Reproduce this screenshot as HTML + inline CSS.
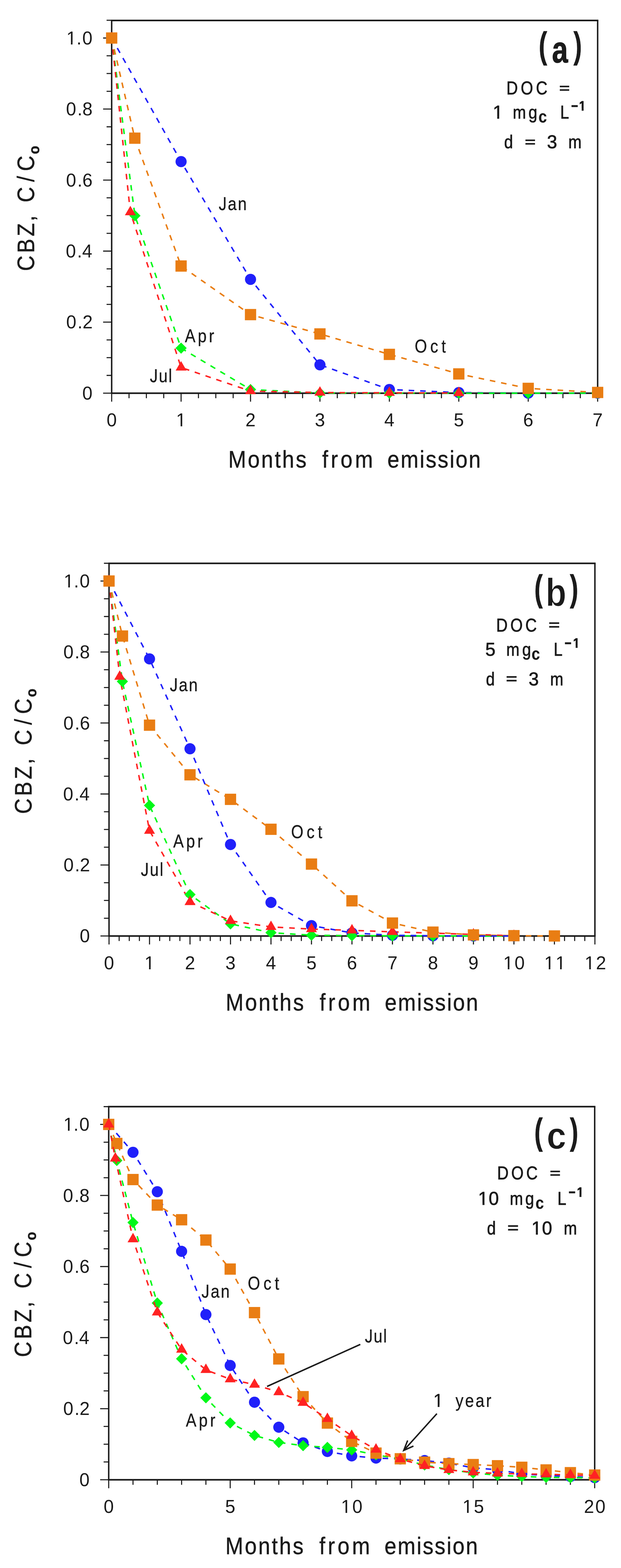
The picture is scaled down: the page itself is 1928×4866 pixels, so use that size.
<!DOCTYPE html>
<html lang="en">
<head>
<meta charset="utf-8">
<title>CBZ, C/Co vs months from emission</title>
<style>
html,body{margin:0;padding:0;background:#fff}
body{width:1928px;height:4866px;overflow:hidden}
svg{display:block}
text{font-family:"Liberation Sans",sans-serif;font-kerning:none;white-space:pre}
</style>
</head>
<body>
<svg width="1928" height="4866" viewBox="0 0 1928 4866">
<rect width="1928" height="4866" fill="#fff"/>
<g id="panel-a">
<path d="M320.1 1220.1H346.7M330.9 1164.99H346.7M330.9 1109.89H346.7M330.9 1054.78H346.7M320.1 999.68H346.7M330.9 944.57H346.7M330.9 889.47H346.7M330.9 834.36H346.7M320.1 779.26H346.7M330.9 724.15H346.7M330.9 669.05H346.7M330.9 613.94H346.7M320.1 558.84H346.7M330.9 503.73H346.7M330.9 448.63H346.7M330.9 393.52H346.7M320.1 338.42H346.7M330.9 283.31H346.7M330.9 228.21H346.7M330.9 173.11H346.7M320.1 118H346.7M330.9 62.89H346.7M346.7 1220.1V1246.4M400.59 1220.1V1235.7M454.47 1220.1V1235.7M508.36 1220.1V1235.7M562.24 1220.1V1246.4M616.13 1220.1V1235.7M670.01 1220.1V1235.7M723.9 1220.1V1235.7M777.79 1220.1V1246.4M831.67 1220.1V1235.7M885.56 1220.1V1235.7M939.44 1220.1V1235.7M993.33 1220.1V1246.4M1047.21 1220.1V1235.7M1101.1 1220.1V1235.7M1154.99 1220.1V1235.7M1208.87 1220.1V1246.4M1262.76 1220.1V1235.7M1316.64 1220.1V1235.7M1370.53 1220.1V1235.7M1424.41 1220.1V1246.4M1478.3 1220.1V1235.7M1532.19 1220.1V1235.7M1586.07 1220.1V1235.7M1639.96 1220.1V1246.4M1693.84 1220.1V1235.7M1747.73 1220.1V1235.7M1801.61 1220.1V1235.7M1855.5 1220.1V1246.4" stroke="#1b1b1b" stroke-width="3.3" fill="none"/>
<path d="M344.45 63.4H1857.75M344.45 1220.3H1857.75" stroke="#1b1b1b" stroke-width="5" fill="none"/>
<path d="M346.7 63.4V1220.1M1855.5 63.4V1220.1" stroke="#1b1b1b" stroke-width="4.5" fill="none"/>
<text transform="translate(205.89 137.8)" dx="0 0 2.4" font-size="56.7" font-weight="normal" letter-spacing="0" fill="#1b1b1b">1.0</text>
<path transform="translate(205.89 137.8)" d="M2.32 -5.44H14.26V2.5H2.32ZM19.27 -5.44H30.77V2.5H19.27Z" fill="#fff"/>
<text transform="translate(205.04 358.22)" dx="0 3.5 0" font-size="56.7" font-weight="normal" letter-spacing="0" fill="#1b1b1b">0.8</text>
<text transform="translate(205.07 578.64)" dx="0 3.5 0" font-size="56.7" font-weight="normal" letter-spacing="0" fill="#1b1b1b">0.6</text>
<text transform="translate(204.24 799.06)" dx="0 3.5 0" font-size="56.7" font-weight="normal" letter-spacing="0" fill="#1b1b1b">0.4</text>
<text transform="translate(205.43 1019.48)" dx="0 3.5 0" font-size="56.7" font-weight="normal" letter-spacing="0" fill="#1b1b1b">0.2</text>
<text transform="translate(255.58 1239.9)" font-size="56.7" font-weight="normal" letter-spacing="0" fill="#1b1b1b">0</text>
<text transform="translate(330.93 1323.1)" font-size="56.7" font-weight="normal" letter-spacing="3.7" fill="#1b1b1b">0</text>
<text transform="translate(546.48 1323.1)" font-size="56.7" font-weight="normal" letter-spacing="3.7" fill="#1b1b1b">1</text>
<path transform="translate(546.48 1323.1)" d="M2.32 -5.44H14.26V2.5H2.32ZM19.27 -5.44H30.77V2.5H19.27Z" fill="#fff"/>
<text transform="translate(762.02 1323.1)" font-size="56.7" font-weight="normal" letter-spacing="3.7" fill="#1b1b1b">2</text>
<text transform="translate(977.56 1323.1)" font-size="56.7" font-weight="normal" letter-spacing="3.7" fill="#1b1b1b">3</text>
<text transform="translate(1193.1 1323.1)" font-size="56.7" font-weight="normal" letter-spacing="3.7" fill="#1b1b1b">4</text>
<text transform="translate(1408.65 1323.1)" font-size="56.7" font-weight="normal" letter-spacing="3.7" fill="#1b1b1b">5</text>
<text transform="translate(1624.19 1323.1)" font-size="56.7" font-weight="normal" letter-spacing="3.7" fill="#1b1b1b">6</text>
<text transform="translate(1839.73 1323.1)" font-size="56.7" font-weight="normal" letter-spacing="3.7" fill="#1b1b1b">7</text>
<g>
<text transform="translate(0 1451.4) scale(0.9 1)" font-size="74" font-weight="normal" fill="#1b1b1b" stroke="#1b1b1b" stroke-width="0.8" stroke-linejoin="round"><tspan x="787.6" letter-spacing="5.39">Months</tspan> <tspan x="1111.51" letter-spacing="8.98">from</tspan> <tspan x="1336.52" letter-spacing="4.26">emission</tspan></text>
</g>
<text transform="translate(106.3 837.6) rotate(-90) scale(0.9 1)" font-size="74" fill="#1b1b1b" stroke="#1b1b1b" stroke-width="0.8" stroke-linejoin="round"><tspan x="-3.76" letter-spacing="8.42">CBZ</tspan><tspan x="167.39">,</tspan> <tspan x="233.02" letter-spacing="16.9">C/C</tspan><tspan x="399.42" y="15.2" font-size="47" font-weight="bold">o</tspan></text>
<polyline points="346.7,118 418.48,428.79 562.24,825.55 777.79,976.32 993.33,1036.27 1208.87,1099.75 1424.41,1160.37 1639.96,1205.22 1855.5,1217.9" fill="none" stroke="#e97d13" stroke-width="4.6" stroke-dasharray="17.3 18.196"/>
<polyline points="346.7,118 562.24,501.53 777.79,866.99 993.33,1132.15 1208.87,1208.75 1424.41,1218.34 1639.96,1220.1 1855.5,1220.1" fill="none" stroke="#2020fa" stroke-width="4.6" stroke-dasharray="17.3 18.289"/>
<polyline points="346.7,118 418.91,669.6 562.24,1080.35 777.79,1208.86 993.33,1219.55 1208.87,1220.1 1424.41,1220.1 1639.96,1220.1 1855.5,1220.1" fill="none" stroke="#00f818" stroke-width="4.6" stroke-dasharray="17.3 18.107"/>
<polyline points="346.7,118 404.68,658.47 562.24,1140.42 777.79,1213.71 993.33,1218.23 1208.87,1219 1424.41,1219.55" fill="none" stroke="#ff2222" stroke-width="4.6" stroke-dasharray="17.3 18.031"/>
<g><circle cx="346.7" cy="118" r="17.3" fill="#2020fa"/><circle cx="562.24" cy="501.53" r="17.3" fill="#2020fa"/><circle cx="777.79" cy="866.99" r="17.3" fill="#2020fa"/><circle cx="993.33" cy="1132.15" r="17.3" fill="#2020fa"/><circle cx="1208.87" cy="1208.75" r="17.3" fill="#2020fa"/><circle cx="1424.41" cy="1218.34" r="17.3" fill="#2020fa"/><circle cx="1639.96" cy="1220.1" r="17.3" fill="#2020fa"/><circle cx="1855.5" cy="1220.1" r="17.3" fill="#2020fa"/></g>
<g><path d="M346.7 100.6L364.1 118L346.7 135.4L329.3 118Z" fill="#00f818"/><path d="M418.91 652.2L436.31 669.6L418.91 687L401.51 669.6Z" fill="#00f818"/><path d="M562.24 1062.95L579.64 1080.35L562.24 1097.75L544.84 1080.35Z" fill="#00f818"/><path d="M777.79 1191.46L795.19 1208.86L777.79 1226.26L760.39 1208.86Z" fill="#00f818"/><path d="M993.33 1202.15L1010.73 1219.55L993.33 1236.95L975.93 1219.55Z" fill="#00f818"/><path d="M1208.87 1202.7L1226.27 1220.1L1208.87 1237.5L1191.47 1220.1Z" fill="#00f818"/><path d="M1424.41 1202.7L1441.81 1220.1L1424.41 1237.5L1407.01 1220.1Z" fill="#00f818"/><path d="M1639.96 1202.7L1657.36 1220.1L1639.96 1237.5L1622.56 1220.1Z" fill="#00f818"/><path d="M1855.5 1202.7L1872.9 1220.1L1855.5 1237.5L1838.1 1220.1Z" fill="#00f818"/></g>
<g><path d="M346.7 98.2L363.7 127.6L329.7 127.6Z" fill="#ff2222"/><path d="M404.68 638.67L421.68 668.07L387.68 668.07Z" fill="#ff2222"/><path d="M562.24 1120.62L579.24 1150.02L545.24 1150.02Z" fill="#ff2222"/><path d="M777.79 1193.91L794.79 1223.31L760.79 1223.31Z" fill="#ff2222"/><path d="M993.33 1198.43L1010.33 1227.83L976.33 1227.83Z" fill="#ff2222"/><path d="M1208.87 1199.2L1225.87 1228.6L1191.87 1228.6Z" fill="#ff2222"/><path d="M1424.41 1199.75L1441.41 1229.15L1407.41 1229.15Z" fill="#ff2222"/></g>
<g><rect x="329.2" y="100.5" width="35" height="35" fill="#e97d13"/><rect x="400.98" y="411.29" width="35" height="35" fill="#e97d13"/><rect x="544.74" y="808.05" width="35" height="35" fill="#e97d13"/><rect x="760.29" y="958.82" width="35" height="35" fill="#e97d13"/><rect x="975.83" y="1018.77" width="35" height="35" fill="#e97d13"/><rect x="1191.37" y="1082.25" width="35" height="35" fill="#e97d13"/><rect x="1406.91" y="1142.87" width="35" height="35" fill="#e97d13"/><rect x="1622.46" y="1187.72" width="35" height="35" fill="#e97d13"/><rect x="1838" y="1200.4" width="35" height="35" fill="#e97d13"/></g>
<text transform="translate(679.8 652.4) scale(0.87 1)" x="-0.88" y="0" font-size="56.5" font-weight="normal" letter-spacing="4.31" fill="#1b1b1b" stroke="#1b1b1b" stroke-width="0.6" stroke-linejoin="round">Jan</text>
<path transform="translate(679.8 652.4) scale(0.87 1)" d="M8.16 -41.17H17.63V-33.07H8.16Z" fill="#fff"/>
<text transform="translate(574 1062.4) scale(0.87 1)" x="-0.11" y="0" font-size="56.5" font-weight="normal" letter-spacing="8.29" fill="#1b1b1b" stroke="#1b1b1b" stroke-width="0.6" stroke-linejoin="round">Apr</text>
<text transform="translate(466 1186.2) scale(0.87 1)" x="-0.88" y="0" font-size="56.5" font-weight="normal" letter-spacing="3.57" fill="#1b1b1b" stroke="#1b1b1b" stroke-width="0.6" stroke-linejoin="round">Jul</text>
<path transform="translate(466 1186.2) scale(0.87 1)" d="M8.16 -41.17H17.63V-33.07H8.16Z" fill="#fff"/>
<text transform="translate(1289.8 1094) scale(0.87 1)" x="-2.68" y="0" font-size="56.5" font-weight="normal" letter-spacing="11.68" fill="#1b1b1b" stroke="#1b1b1b" stroke-width="0.6" stroke-linejoin="round">Oct</text>
</g>
<g id="panel-b">
<path d="M311.9 2904.6H338.5M322.7 2849.53H338.5M322.7 2794.45H338.5M322.7 2739.38H338.5M311.9 2684.3H338.5M322.7 2629.22H338.5M322.7 2574.15H338.5M322.7 2519.07H338.5M311.9 2464H338.5M322.7 2408.92H338.5M322.7 2353.85H338.5M322.7 2298.77H338.5M311.9 2243.7H338.5M322.7 2188.62H338.5M322.7 2133.55H338.5M322.7 2078.47H338.5M311.9 2023.4H338.5M322.7 1968.32H338.5M322.7 1913.25H338.5M322.7 1858.17H338.5M311.9 1803.1H338.5M322.7 1748.02H338.5M338.5 2904.6V2930.9M369.93 2904.6V2920.2M401.35 2904.6V2920.2M432.78 2904.6V2920.2M464.21 2904.6V2930.9M495.64 2904.6V2920.2M527.06 2904.6V2920.2M558.49 2904.6V2920.2M589.92 2904.6V2930.9M621.34 2904.6V2920.2M652.77 2904.6V2920.2M684.2 2904.6V2920.2M715.62 2904.6V2930.9M747.05 2904.6V2920.2M778.48 2904.6V2920.2M809.91 2904.6V2920.2M841.33 2904.6V2930.9M872.76 2904.6V2920.2M904.19 2904.6V2920.2M935.61 2904.6V2920.2M967.04 2904.6V2930.9M998.47 2904.6V2920.2M1029.9 2904.6V2920.2M1061.32 2904.6V2920.2M1092.75 2904.6V2930.9M1124.18 2904.6V2920.2M1155.6 2904.6V2920.2M1187.03 2904.6V2920.2M1218.46 2904.6V2930.9M1249.89 2904.6V2920.2M1281.31 2904.6V2920.2M1312.74 2904.6V2920.2M1344.17 2904.6V2930.9M1375.59 2904.6V2920.2M1407.02 2904.6V2920.2M1438.45 2904.6V2920.2M1469.88 2904.6V2930.9M1501.3 2904.6V2920.2M1532.73 2904.6V2920.2M1564.16 2904.6V2920.2M1595.58 2904.6V2930.9M1627.01 2904.6V2920.2M1658.44 2904.6V2920.2M1689.86 2904.6V2920.2M1721.29 2904.6V2930.9M1752.72 2904.6V2920.2M1784.15 2904.6V2920.2M1815.57 2904.6V2920.2M1847 2904.6V2930.9" stroke="#1b1b1b" stroke-width="3.3" fill="none"/>
<path d="M336.25 1748.2H1849.25M336.25 2904.8H1849.25" stroke="#1b1b1b" stroke-width="5" fill="none"/>
<path d="M338.5 1748.2V2904.6M1847 1748.2V2904.6" stroke="#1b1b1b" stroke-width="4.5" fill="none"/>
<text transform="translate(197.69 1822.9)" dx="0 0 2.4" font-size="56.7" font-weight="normal" letter-spacing="0" fill="#1b1b1b">1.0</text>
<path transform="translate(197.69 1822.9)" d="M2.32 -5.44H14.26V2.5H2.32ZM19.27 -5.44H30.77V2.5H19.27Z" fill="#fff"/>
<text transform="translate(196.84 2043.2)" dx="0 3.5 0" font-size="56.7" font-weight="normal" letter-spacing="0" fill="#1b1b1b">0.8</text>
<text transform="translate(196.87 2263.5)" dx="0 3.5 0" font-size="56.7" font-weight="normal" letter-spacing="0" fill="#1b1b1b">0.6</text>
<text transform="translate(196.04 2483.8)" dx="0 3.5 0" font-size="56.7" font-weight="normal" letter-spacing="0" fill="#1b1b1b">0.4</text>
<text transform="translate(197.23 2704.1)" dx="0 3.5 0" font-size="56.7" font-weight="normal" letter-spacing="0" fill="#1b1b1b">0.2</text>
<text transform="translate(247.38 2924.4)" font-size="56.7" font-weight="normal" letter-spacing="0" fill="#1b1b1b">0</text>
<text transform="translate(322.73 3007.6)" font-size="56.7" font-weight="normal" letter-spacing="3.7" fill="#1b1b1b">0</text>
<text transform="translate(448.44 3007.6)" font-size="56.7" font-weight="normal" letter-spacing="3.7" fill="#1b1b1b">1</text>
<path transform="translate(448.44 3007.6)" d="M2.32 -5.44H14.26V2.5H2.32ZM19.27 -5.44H30.77V2.5H19.27Z" fill="#fff"/>
<text transform="translate(574.15 3007.6)" font-size="56.7" font-weight="normal" letter-spacing="3.7" fill="#1b1b1b">2</text>
<text transform="translate(699.86 3007.6)" font-size="56.7" font-weight="normal" letter-spacing="3.7" fill="#1b1b1b">3</text>
<text transform="translate(825.57 3007.6)" font-size="56.7" font-weight="normal" letter-spacing="3.7" fill="#1b1b1b">4</text>
<text transform="translate(951.27 3007.6)" font-size="56.7" font-weight="normal" letter-spacing="3.7" fill="#1b1b1b">5</text>
<text transform="translate(1076.98 3007.6)" font-size="56.7" font-weight="normal" letter-spacing="3.7" fill="#1b1b1b">6</text>
<text transform="translate(1202.69 3007.6)" font-size="56.7" font-weight="normal" letter-spacing="3.7" fill="#1b1b1b">7</text>
<text transform="translate(1328.4 3007.6)" font-size="56.7" font-weight="normal" letter-spacing="3.7" fill="#1b1b1b">8</text>
<text transform="translate(1454.11 3007.6)" font-size="56.7" font-weight="normal" letter-spacing="3.7" fill="#1b1b1b">9</text>
<text transform="translate(1562.2 3007.6)" font-size="56.7" font-weight="normal" letter-spacing="3.7" fill="#1b1b1b">10</text>
<path transform="translate(1562.2 3007.6)" d="M2.32 -5.44H14.26V2.5H2.32ZM19.27 -5.44H30.77V2.5H19.27Z" fill="#fff"/>
<text transform="translate(1689.41 3007.6)" font-size="56.7" font-weight="normal" letter-spacing="3.7" fill="#1b1b1b">11</text>
<path transform="translate(1689.41 3007.6)" d="M2.32 -5.44H14.26V2.5H2.32ZM19.27 -5.44H30.77V2.5H19.27ZM37.55 -5.44H49.49V2.5H37.55ZM54.5 -5.44H66V2.5H54.5Z" fill="#fff"/>
<text transform="translate(1815.12 3007.6)" font-size="56.7" font-weight="normal" letter-spacing="3.7" fill="#1b1b1b">12</text>
<path transform="translate(1815.12 3007.6)" d="M2.32 -5.44H14.26V2.5H2.32ZM19.27 -5.44H30.77V2.5H19.27Z" fill="#fff"/>
<g>
<text transform="translate(0 3135.9) scale(0.9 1)" font-size="74" font-weight="normal" fill="#1b1b1b" stroke="#1b1b1b" stroke-width="0.8" stroke-linejoin="round"><tspan x="778.49" letter-spacing="5.39">Months</tspan> <tspan x="1102.4" letter-spacing="8.98">from</tspan> <tspan x="1327.41" letter-spacing="4.26">emission</tspan></text>
</g>
<text transform="translate(98.1 2522.5) rotate(-90) scale(0.9 1)" font-size="74" fill="#1b1b1b" stroke="#1b1b1b" stroke-width="0.8" stroke-linejoin="round"><tspan x="-3.76" letter-spacing="8.42">CBZ</tspan><tspan x="167.39">,</tspan> <tspan x="233.02" letter-spacing="16.9">C/C</tspan><tspan x="399.42" y="15.2" font-size="47" font-weight="bold">o</tspan></text>
<polyline points="338.5,1803.1 380.31,1973.83 464.21,2250.42 589.92,2404.41 715.62,2480.63 841.33,2573.49 967.04,2681.55 1092.75,2795.55 1218.46,2864.51 1344.17,2892.7 1469.88,2901.3 1595.58,2903.72 1721.29,2904.6" fill="none" stroke="#e97d13" stroke-width="4.6" stroke-dasharray="17.3 18.526"/>
<polyline points="338.5,1803.1 464.21,2044.77 589.92,2323.67 715.62,2620.85 841.33,2800.62 967.04,2872.44 1092.75,2895.24 1218.46,2902.4 1344.17,2904.05 1469.88,2904.6 1595.58,2904.6" fill="none" stroke="#2020fa" stroke-width="4.6" stroke-dasharray="17.3 18.511"/>
<polyline points="338.5,1803.1 379.98,2114.82 464.21,2499.47 589.92,2776.05 715.62,2867.04 841.33,2894.36 967.04,2902.29 1092.75,2903.5 1218.46,2904.05 1344.17,2904.6 1469.88,2904.6 1595.58,2904.6" fill="none" stroke="#00f818" stroke-width="4.6" stroke-dasharray="17.3 18.358"/>
<polyline points="338.5,1803.1 371.69,2099.95 464.21,2577.78 589.92,2799.19 715.62,2857.68 841.33,2876.51 967.04,2883.23 1092.75,2887.09 1218.46,2891.82 1344.17,2895.79 1469.88,2899.86 1595.58,2903.94" fill="none" stroke="#ff2222" stroke-width="4.6" stroke-dasharray="17.3 18.552"/>
<g><circle cx="338.5" cy="1803.1" r="17.3" fill="#2020fa"/><circle cx="464.21" cy="2044.77" r="17.3" fill="#2020fa"/><circle cx="589.92" cy="2323.67" r="17.3" fill="#2020fa"/><circle cx="715.62" cy="2620.85" r="17.3" fill="#2020fa"/><circle cx="841.33" cy="2800.62" r="17.3" fill="#2020fa"/><circle cx="967.04" cy="2872.44" r="17.3" fill="#2020fa"/><circle cx="1092.75" cy="2895.24" r="17.3" fill="#2020fa"/><circle cx="1218.46" cy="2902.4" r="17.3" fill="#2020fa"/><circle cx="1344.17" cy="2904.05" r="17.3" fill="#2020fa"/><circle cx="1469.88" cy="2904.6" r="17.3" fill="#2020fa"/><circle cx="1595.58" cy="2904.6" r="17.3" fill="#2020fa"/></g>
<g><path d="M338.5 1785.7L355.9 1803.1L338.5 1820.5L321.1 1803.1Z" fill="#00f818"/><path d="M379.98 2097.42L397.38 2114.82L379.98 2132.22L362.58 2114.82Z" fill="#00f818"/><path d="M464.21 2482.07L481.61 2499.47L464.21 2516.87L446.81 2499.47Z" fill="#00f818"/><path d="M589.92 2758.65L607.32 2776.05L589.92 2793.45L572.52 2776.05Z" fill="#00f818"/><path d="M715.62 2849.64L733.02 2867.04L715.62 2884.44L698.23 2867.04Z" fill="#00f818"/><path d="M841.33 2876.96L858.73 2894.36L841.33 2911.76L823.93 2894.36Z" fill="#00f818"/><path d="M967.04 2884.89L984.44 2902.29L967.04 2919.69L949.64 2902.29Z" fill="#00f818"/><path d="M1092.75 2886.1L1110.15 2903.5L1092.75 2920.9L1075.35 2903.5Z" fill="#00f818"/><path d="M1218.46 2886.65L1235.86 2904.05L1218.46 2921.45L1201.06 2904.05Z" fill="#00f818"/><path d="M1344.17 2887.2L1361.57 2904.6L1344.17 2922L1326.77 2904.6Z" fill="#00f818"/><path d="M1469.88 2887.2L1487.28 2904.6L1469.88 2922L1452.47 2904.6Z" fill="#00f818"/><path d="M1595.58 2887.2L1612.98 2904.6L1595.58 2922L1578.18 2904.6Z" fill="#00f818"/></g>
<g><path d="M338.5 1783.3L355.5 1812.7L321.5 1812.7Z" fill="#ff2222"/><path d="M371.69 2080.15L388.69 2109.55L354.69 2109.55Z" fill="#ff2222"/><path d="M464.21 2557.98L481.21 2587.38L447.21 2587.38Z" fill="#ff2222"/><path d="M589.92 2779.39L606.92 2808.79L572.92 2808.79Z" fill="#ff2222"/><path d="M715.62 2837.88L732.62 2867.28L698.62 2867.28Z" fill="#ff2222"/><path d="M841.33 2856.71L858.33 2886.11L824.33 2886.11Z" fill="#ff2222"/><path d="M967.04 2863.43L984.04 2892.83L950.04 2892.83Z" fill="#ff2222"/><path d="M1092.75 2867.29L1109.75 2896.69L1075.75 2896.69Z" fill="#ff2222"/><path d="M1218.46 2872.02L1235.46 2901.42L1201.46 2901.42Z" fill="#ff2222"/><path d="M1344.17 2875.99L1361.17 2905.39L1327.17 2905.39Z" fill="#ff2222"/><path d="M1469.88 2880.06L1486.88 2909.46L1452.88 2909.46Z" fill="#ff2222"/><path d="M1595.58 2884.14L1612.58 2913.54L1578.58 2913.54Z" fill="#ff2222"/></g>
<g><rect x="321" y="1785.6" width="35" height="35" fill="#e97d13"/><rect x="362.81" y="1956.33" width="35" height="35" fill="#e97d13"/><rect x="446.71" y="2232.92" width="35" height="35" fill="#e97d13"/><rect x="572.42" y="2386.91" width="35" height="35" fill="#e97d13"/><rect x="698.12" y="2463.13" width="35" height="35" fill="#e97d13"/><rect x="823.83" y="2555.99" width="35" height="35" fill="#e97d13"/><rect x="949.54" y="2664.05" width="35" height="35" fill="#e97d13"/><rect x="1075.25" y="2778.05" width="35" height="35" fill="#e97d13"/><rect x="1200.96" y="2847.01" width="35" height="35" fill="#e97d13"/><rect x="1326.67" y="2875.2" width="35" height="35" fill="#e97d13"/><rect x="1452.38" y="2883.8" width="35" height="35" fill="#e97d13"/><rect x="1578.08" y="2886.22" width="35" height="35" fill="#e97d13"/><rect x="1703.79" y="2887.1" width="35" height="35" fill="#e97d13"/></g>
<text transform="translate(528 2144.7) scale(0.87 1)" x="-0.88" y="0" font-size="56.5" font-weight="normal" letter-spacing="4.03" fill="#1b1b1b" stroke="#1b1b1b" stroke-width="0.6" stroke-linejoin="round">Jan</text>
<path transform="translate(528 2144.7) scale(0.87 1)" d="M8.16 -41.17H17.63V-33.07H8.16Z" fill="#fff"/>
<text transform="translate(537.8 2629.6) scale(0.87 1)" x="-0.11" y="0" font-size="56.5" font-weight="normal" letter-spacing="8.57" fill="#1b1b1b" stroke="#1b1b1b" stroke-width="0.6" stroke-linejoin="round">Apr</text>
<text transform="translate(437.9 2718.2) scale(0.87 1)" x="-0.88" y="0" font-size="56.5" font-weight="normal" letter-spacing="4.03" fill="#1b1b1b" stroke="#1b1b1b" stroke-width="0.6" stroke-linejoin="round">Jul</text>
<path transform="translate(437.9 2718.2) scale(0.87 1)" d="M8.16 -41.17H17.63V-33.07H8.16Z" fill="#fff"/>
<text transform="translate(906 2600.5) scale(0.87 1)" x="-2.68" y="0" font-size="56.5" font-weight="normal" letter-spacing="11.62" fill="#1b1b1b" stroke="#1b1b1b" stroke-width="0.6" stroke-linejoin="round">Oct</text>
</g>
<g id="panel-c">
<path d="M310.9 4592.1H337.5M321.7 4536.97H337.5M321.7 4481.83H337.5M321.7 4426.7H337.5M310.9 4371.56H337.5M321.7 4316.43H337.5M321.7 4261.29H337.5M321.7 4206.16H337.5M310.9 4151.02H337.5M321.7 4095.89H337.5M321.7 4040.75H337.5M321.7 3985.62H337.5M310.9 3930.48H337.5M321.7 3875.35H337.5M321.7 3820.21H337.5M321.7 3765.08H337.5M310.9 3709.94H337.5M321.7 3654.81H337.5M321.7 3599.67H337.5M321.7 3544.53H337.5M310.9 3489.4H337.5M321.7 3434.27H337.5M337.5 4592.1V4618.4M412.94 4592.1V4607.7M488.38 4592.1V4607.7M563.82 4592.1V4607.7M639.26 4592.1V4607.7M714.7 4592.1V4618.4M790.14 4592.1V4607.7M865.58 4592.1V4607.7M941.02 4592.1V4607.7M1016.46 4592.1V4607.7M1091.9 4592.1V4618.4M1167.34 4592.1V4607.7M1242.78 4592.1V4607.7M1318.22 4592.1V4607.7M1393.66 4592.1V4607.7M1469.1 4592.1V4618.4M1544.54 4592.1V4607.7M1619.98 4592.1V4607.7M1695.42 4592.1V4607.7M1770.86 4592.1V4607.7M1846.3 4592.1V4618.4" stroke="#1b1b1b" stroke-width="3.3" fill="none"/>
<path d="M335.25 3434.2H1848.55M335.25 4592.3H1848.55" stroke="#1b1b1b" stroke-width="5" fill="none"/>
<path d="M337.5 3434.2V4592.1M1846.3 3434.2V4592.1" stroke="#1b1b1b" stroke-width="4.5" fill="none"/>
<text transform="translate(196.69 3509.2)" dx="0 0 2.4" font-size="56.7" font-weight="normal" letter-spacing="0" fill="#1b1b1b">1.0</text>
<path transform="translate(196.69 3509.2)" d="M2.32 -5.44H14.26V2.5H2.32ZM19.27 -5.44H30.77V2.5H19.27Z" fill="#fff"/>
<text transform="translate(195.84 3729.74)" dx="0 3.5 0" font-size="56.7" font-weight="normal" letter-spacing="0" fill="#1b1b1b">0.8</text>
<text transform="translate(195.87 3950.28)" dx="0 3.5 0" font-size="56.7" font-weight="normal" letter-spacing="0" fill="#1b1b1b">0.6</text>
<text transform="translate(195.04 4170.82)" dx="0 3.5 0" font-size="56.7" font-weight="normal" letter-spacing="0" fill="#1b1b1b">0.4</text>
<text transform="translate(196.23 4391.36)" dx="0 3.5 0" font-size="56.7" font-weight="normal" letter-spacing="0" fill="#1b1b1b">0.2</text>
<text transform="translate(246.38 4611.9)" font-size="56.7" font-weight="normal" letter-spacing="0" fill="#1b1b1b">0</text>
<text transform="translate(321.73 4695.1)" font-size="56.7" font-weight="normal" letter-spacing="3.7" fill="#1b1b1b">0</text>
<text transform="translate(698.93 4695.1)" font-size="56.7" font-weight="normal" letter-spacing="3.7" fill="#1b1b1b">5</text>
<text transform="translate(1058.52 4695.1)" font-size="56.7" font-weight="normal" letter-spacing="3.7" fill="#1b1b1b">10</text>
<path transform="translate(1058.52 4695.1)" d="M2.32 -5.44H14.26V2.5H2.32ZM19.27 -5.44H30.77V2.5H19.27Z" fill="#fff"/>
<text transform="translate(1435.72 4695.1)" font-size="56.7" font-weight="normal" letter-spacing="3.7" fill="#1b1b1b">15</text>
<path transform="translate(1435.72 4695.1)" d="M2.32 -5.44H14.26V2.5H2.32ZM19.27 -5.44H30.77V2.5H19.27Z" fill="#fff"/>
<text transform="translate(1812.92 4695.1)" font-size="56.7" font-weight="normal" letter-spacing="3.7" fill="#1b1b1b">20</text>
<g>
<text transform="translate(0 4823.4) scale(0.9 1)" font-size="74" font-weight="normal" fill="#1b1b1b" stroke="#1b1b1b" stroke-width="0.8" stroke-linejoin="round"><tspan x="777.37" letter-spacing="5.39">Months</tspan> <tspan x="1101.29" letter-spacing="8.98">from</tspan> <tspan x="1326.3" letter-spacing="4.26">emission</tspan></text>
</g>
<text transform="translate(97.1 4208.1) rotate(-90) scale(0.9 1)" font-size="74" fill="#1b1b1b" stroke="#1b1b1b" stroke-width="0.8" stroke-linejoin="round"><tspan x="-3.76" letter-spacing="8.42">CBZ</tspan><tspan x="167.39">,</tspan> <tspan x="233.02" letter-spacing="16.9">C/C</tspan><tspan x="399.42" y="15.2" font-size="47" font-weight="bold">o</tspan></text>
<polyline points="337.5,3489.4 412.94,3575.96 488.38,3698.25 563.82,3883.39 639.26,4079.57 714.7,4237.58 790.14,4351.6 865.58,4429.12 941.02,4477.75 1016.46,4504.33 1091.9,4518.11 1167.34,4524.84 1242.78,4527.59 1318.22,4532.66 1393.66,4540.6 1469.1,4555.16 1544.54,4561.22 1619.98,4573.91 1695.42,4578.87 1770.86,4581.96 1846.3,4585.48" fill="none" stroke="#2020fa" stroke-width="4.6" stroke-dasharray="17.3 18.484"/>
<polyline points="337.5,3489.4 362.7,3601.43 412.94,3793.86 488.38,4043.73 563.82,4216.74 639.26,4337.82 714.7,4415.78 790.14,4454.59 865.58,4476.32 941.02,4486.35 1016.46,4491.75 1091.9,4499.58 1167.34,4514.91 1242.78,4527.59 1318.22,4546.34 1393.66,4560.67 1469.1,4571.15 1544.54,4577.99 1619.98,4581.96 1695.42,4584.49 1770.86,4585.59 1846.3,4586.48" fill="none" stroke="#00f818" stroke-width="4.6" stroke-dasharray="17.3 18.500"/>
<polyline points="337.5,3489.4 362.7,3548.5 412.94,3660.54 488.38,3739.71 563.82,3785.25 639.26,3848.22 714.7,3938.31 790.14,4073.5 865.58,4217.18 941.02,4334.29 1016.46,4416.22 1091.9,4473.01 1167.34,4509.4 1242.78,4527.04 1318.22,4537.52 1393.66,4542.15 1469.1,4545.01 1544.54,4548.65 1619.98,4553.4 1695.42,4561.67 1770.86,4570.16 1846.3,4577.54" fill="none" stroke="#e97d13" stroke-width="4.6" stroke-dasharray="17.3 17.984"/>
<g><circle cx="337.5" cy="3489.4" r="17.3" fill="#2020fa"/><circle cx="412.94" cy="3575.96" r="17.3" fill="#2020fa"/><circle cx="488.38" cy="3698.25" r="17.3" fill="#2020fa"/><circle cx="563.82" cy="3883.39" r="17.3" fill="#2020fa"/><circle cx="639.26" cy="4079.57" r="17.3" fill="#2020fa"/><circle cx="714.7" cy="4237.58" r="17.3" fill="#2020fa"/><circle cx="790.14" cy="4351.6" r="17.3" fill="#2020fa"/><circle cx="865.58" cy="4429.12" r="17.3" fill="#2020fa"/><circle cx="941.02" cy="4477.75" r="17.3" fill="#2020fa"/><circle cx="1016.46" cy="4504.33" r="17.3" fill="#2020fa"/><circle cx="1091.9" cy="4518.11" r="17.3" fill="#2020fa"/><circle cx="1167.34" cy="4524.84" r="17.3" fill="#2020fa"/><circle cx="1242.78" cy="4527.59" r="17.3" fill="#2020fa"/><circle cx="1318.22" cy="4532.66" r="17.3" fill="#2020fa"/><circle cx="1393.66" cy="4540.6" r="17.3" fill="#2020fa"/><circle cx="1469.1" cy="4555.16" r="17.3" fill="#2020fa"/><circle cx="1544.54" cy="4561.22" r="17.3" fill="#2020fa"/><circle cx="1619.98" cy="4573.91" r="17.3" fill="#2020fa"/><circle cx="1695.42" cy="4578.87" r="17.3" fill="#2020fa"/><circle cx="1770.86" cy="4581.96" r="17.3" fill="#2020fa"/><circle cx="1846.3" cy="4585.48" r="17.3" fill="#2020fa"/></g>
<g><path d="M337.5 3472L354.9 3489.4L337.5 3506.8L320.1 3489.4Z" fill="#00f818"/><path d="M362.7 3584.03L380.1 3601.43L362.7 3618.83L345.3 3601.43Z" fill="#00f818"/><path d="M412.94 3776.46L430.34 3793.86L412.94 3811.26L395.54 3793.86Z" fill="#00f818"/><path d="M488.38 4026.33L505.78 4043.73L488.38 4061.13L470.98 4043.73Z" fill="#00f818"/><path d="M563.82 4199.34L581.22 4216.74L563.82 4234.14L546.42 4216.74Z" fill="#00f818"/><path d="M639.26 4320.42L656.66 4337.82L639.26 4355.22L621.86 4337.82Z" fill="#00f818"/><path d="M714.7 4398.38L732.1 4415.78L714.7 4433.18L697.3 4415.78Z" fill="#00f818"/><path d="M790.14 4437.19L807.54 4454.59L790.14 4471.99L772.74 4454.59Z" fill="#00f818"/><path d="M865.58 4458.92L882.98 4476.32L865.58 4493.72L848.18 4476.32Z" fill="#00f818"/><path d="M941.02 4468.95L958.42 4486.35L941.02 4503.75L923.62 4486.35Z" fill="#00f818"/><path d="M1016.46 4474.35L1033.86 4491.75L1016.46 4509.15L999.06 4491.75Z" fill="#00f818"/><path d="M1091.9 4482.18L1109.3 4499.58L1091.9 4516.98L1074.5 4499.58Z" fill="#00f818"/><path d="M1167.34 4497.51L1184.74 4514.91L1167.34 4532.31L1149.94 4514.91Z" fill="#00f818"/><path d="M1242.78 4510.19L1260.18 4527.59L1242.78 4544.99L1225.38 4527.59Z" fill="#00f818"/><path d="M1318.22 4528.94L1335.62 4546.34L1318.22 4563.74L1300.82 4546.34Z" fill="#00f818"/><path d="M1393.66 4543.27L1411.06 4560.67L1393.66 4578.07L1376.26 4560.67Z" fill="#00f818"/><path d="M1469.1 4553.75L1486.5 4571.15L1469.1 4588.55L1451.7 4571.15Z" fill="#00f818"/><path d="M1544.54 4560.59L1561.94 4577.99L1544.54 4595.39L1527.14 4577.99Z" fill="#00f818"/><path d="M1619.98 4564.56L1637.38 4581.96L1619.98 4599.36L1602.58 4581.96Z" fill="#00f818"/><path d="M1695.42 4567.09L1712.82 4584.49L1695.42 4601.89L1678.02 4584.49Z" fill="#00f818"/><path d="M1770.86 4568.19L1788.26 4585.59L1770.86 4602.99L1753.46 4585.59Z" fill="#00f818"/><path d="M1846.3 4569.08L1863.7 4586.48L1846.3 4603.88L1828.9 4586.48Z" fill="#00f818"/></g>
<g><rect x="320" y="3471.9" width="35" height="35" fill="#e97d13"/><rect x="345.2" y="3531" width="35" height="35" fill="#e97d13"/><rect x="395.44" y="3643.04" width="35" height="35" fill="#e97d13"/><rect x="470.88" y="3722.21" width="35" height="35" fill="#e97d13"/><rect x="546.32" y="3767.75" width="35" height="35" fill="#e97d13"/><rect x="621.76" y="3830.72" width="35" height="35" fill="#e97d13"/><rect x="697.2" y="3920.81" width="35" height="35" fill="#e97d13"/><rect x="772.64" y="4056" width="35" height="35" fill="#e97d13"/><rect x="848.08" y="4199.68" width="35" height="35" fill="#e97d13"/><rect x="923.52" y="4316.79" width="35" height="35" fill="#e97d13"/><rect x="998.96" y="4398.72" width="35" height="35" fill="#e97d13"/><rect x="1074.4" y="4455.51" width="35" height="35" fill="#e97d13"/><rect x="1149.84" y="4491.9" width="35" height="35" fill="#e97d13"/><rect x="1225.28" y="4509.54" width="35" height="35" fill="#e97d13"/><rect x="1300.72" y="4520.02" width="35" height="35" fill="#e97d13"/><rect x="1376.16" y="4524.65" width="35" height="35" fill="#e97d13"/><rect x="1451.6" y="4527.51" width="35" height="35" fill="#e97d13"/><rect x="1527.04" y="4531.15" width="35" height="35" fill="#e97d13"/><rect x="1602.48" y="4535.9" width="35" height="35" fill="#e97d13"/><rect x="1677.92" y="4544.17" width="35" height="35" fill="#e97d13"/><rect x="1753.36" y="4552.66" width="35" height="35" fill="#e97d13"/><rect x="1828.8" y="4560.04" width="35" height="35" fill="#e97d13"/></g>
<polyline points="337.5,3489.4 358.02,3595.04 412.94,3845.57 488.38,4072.62 563.82,4188.07 639.26,4251.15 714.7,4280.15 790.14,4297.02 865.58,4320.06 941.02,4353.03 1016.46,4403.21 1091.9,4455.7 1167.34,4498.37 1242.78,4528.14 1318.22,4549.09 1393.66,4561.67 1469.1,4568.94 1544.54,4572.58 1619.98,4574.02 1695.42,4575.23 1770.86,4576.99 1846.3,4579.31" fill="none" stroke="#ff2222" stroke-width="4.6" stroke-dasharray="17.3 18.279"/>
<g><path d="M337.5 3469.6L354.5 3499L320.5 3499Z" fill="#ff2222"/><path d="M358.02 3575.24L375.02 3604.64L341.02 3604.64Z" fill="#ff2222"/><path d="M412.94 3825.77L429.94 3855.17L395.94 3855.17Z" fill="#ff2222"/><path d="M488.38 4052.82L505.38 4082.22L471.38 4082.22Z" fill="#ff2222"/><path d="M563.82 4168.27L580.82 4197.67L546.82 4197.67Z" fill="#ff2222"/><path d="M639.26 4231.35L656.26 4260.75L622.26 4260.75Z" fill="#ff2222"/><path d="M714.7 4260.35L731.7 4289.75L697.7 4289.75Z" fill="#ff2222"/><path d="M790.14 4277.22L807.14 4306.62L773.14 4306.62Z" fill="#ff2222"/><path d="M865.58 4300.26L882.58 4329.66L848.58 4329.66Z" fill="#ff2222"/><path d="M941.02 4333.23L958.02 4362.63L924.02 4362.63Z" fill="#ff2222"/><path d="M1016.46 4383.41L1033.46 4412.81L999.46 4412.81Z" fill="#ff2222"/><path d="M1091.9 4435.9L1108.9 4465.3L1074.9 4465.3Z" fill="#ff2222"/><path d="M1167.34 4478.57L1184.34 4507.97L1150.34 4507.97Z" fill="#ff2222"/><path d="M1242.78 4508.34L1259.78 4537.74L1225.78 4537.74Z" fill="#ff2222"/><path d="M1318.22 4529.29L1335.22 4558.69L1301.22 4558.69Z" fill="#ff2222"/><path d="M1393.66 4541.87L1410.66 4571.27L1376.66 4571.27Z" fill="#ff2222"/><path d="M1469.1 4549.14L1486.1 4578.54L1452.1 4578.54Z" fill="#ff2222"/><path d="M1544.54 4552.78L1561.54 4582.18L1527.54 4582.18Z" fill="#ff2222"/><path d="M1619.98 4554.22L1636.98 4583.62L1602.98 4583.62Z" fill="#ff2222"/><path d="M1695.42 4555.43L1712.42 4584.83L1678.42 4584.83Z" fill="#ff2222"/><path d="M1770.86 4557.19L1787.86 4586.59L1753.86 4586.59Z" fill="#ff2222"/><path d="M1846.3 4559.51L1863.3 4588.91L1829.3 4588.91Z" fill="#ff2222"/></g>
<text transform="translate(626.3 4026.8) scale(0.87 1)" x="-0.88" y="0" font-size="56.5" font-weight="normal" letter-spacing="4.66" fill="#1b1b1b" stroke="#1b1b1b" stroke-width="0.6" stroke-linejoin="round">Jan</text>
<path transform="translate(626.3 4026.8) scale(0.87 1)" d="M8.16 -41.17H17.63V-33.07H8.16Z" fill="#fff"/>
<text transform="translate(577.2 4427.2) scale(0.87 1)" x="-0.11" y="0" font-size="56.5" font-weight="normal" letter-spacing="8.57" fill="#1b1b1b" stroke="#1b1b1b" stroke-width="0.6" stroke-linejoin="round">Apr</text>
<text transform="translate(1133.5 4165.5) scale(0.87 1)" x="-0.88" y="0" font-size="56.5" font-weight="normal" letter-spacing="3.12" fill="#1b1b1b" stroke="#1b1b1b" stroke-width="0.6" stroke-linejoin="round">Jul</text>
<path transform="translate(1133.5 4165.5) scale(0.87 1)" d="M8.16 -41.17H17.63V-33.07H8.16Z" fill="#fff"/>
<text transform="translate(771.6 4001.5) scale(0.87 1)" x="-2.68" y="0" font-size="56.5" font-weight="normal" letter-spacing="12.08" fill="#1b1b1b" stroke="#1b1b1b" stroke-width="0.6" stroke-linejoin="round">Oct</text>
<g>
<text transform="translate(0 4366)" font-size="56.5" font-weight="normal" fill="#1b1b1b" stroke="#1b1b1b" stroke-width="0.6" stroke-linejoin="round"><tspan x="1344.98">1</tspan></text>
<path transform="translate(0 4366)" d="M1346.99 -5.72H1358.89V2.8H1346.99ZM1364.48 -5.72H1375.95V2.8H1364.48Z" fill="#fff"/>
<text transform="translate(0 4366) scale(0.87 1)" font-size="56.5" font-weight="normal" fill="#1b1b1b" stroke="#1b1b1b" stroke-width="0.6" stroke-linejoin="round"><tspan x="1625.49" letter-spacing="5.94">year</tspan></text>
</g>
<path d="M1118.6 4172.1L829.1 4302.6" stroke="#1b1b1b" stroke-width="4.5" fill="none"/>
<path d="M1356.4 4387L1254.5 4500M1265.6 4470.2L1253.4 4501.2L1283.6 4487.6" stroke="#1b1b1b" stroke-width="4.5" fill="none" stroke-linejoin="miter"/>
</g>
<g><text transform="translate(1676.72 178.6) scale(0.69 1)" x="-5.63" y="0" font-size="113" font-weight="bold" letter-spacing="0" fill="#1b1b1b" stroke="#1b1b1b" stroke-width="1.2" stroke-linejoin="round">(</text><text transform="translate(1716.44 193.5) scale(0.78 1)" x="-3.35" y="0" font-size="114.3" font-weight="bold" letter-spacing="0" fill="#1b1b1b" stroke="#1b1b1b" stroke-width="1.6">a</text><text transform="translate(1780.62 178.6) scale(0.69 1)" x="-0.11" y="0" font-size="113" font-weight="bold" letter-spacing="0" fill="#1b1b1b" stroke="#1b1b1b" stroke-width="1.2" stroke-linejoin="round">)</text></g>
<g><text transform="translate(1662.82 1864.2) scale(0.69 1)" x="-5.63" y="0" font-size="113" font-weight="bold" letter-spacing="0" fill="#1b1b1b" stroke="#1b1b1b" stroke-width="1.2" stroke-linejoin="round">(</text><text transform="translate(1700.7 1880.6) scale(0.86 1)" x="-8.13" y="0" font-size="123.3" font-weight="bold" letter-spacing="0" fill="#1b1b1b" stroke="#fff" stroke-width="2">b</text><text transform="translate(1769.32 1864.2) scale(0.69 1)" x="-0.11" y="0" font-size="113" font-weight="bold" letter-spacing="0" fill="#1b1b1b" stroke="#1b1b1b" stroke-width="1.2" stroke-linejoin="round">)</text></g>
<g><text transform="translate(1662.82 3550.1) scale(0.69 1)" x="-5.63" y="0" font-size="113" font-weight="bold" letter-spacing="0" fill="#1b1b1b" stroke="#1b1b1b" stroke-width="1.2" stroke-linejoin="round">(</text><text transform="translate(1701.8 3565.1) scale(0.93 1)" x="-4.54" y="0" font-size="116.3" font-weight="bold" letter-spacing="0" fill="#1b1b1b" stroke="#fff" stroke-width="1">c</text><text transform="translate(1769.32 3550.1) scale(0.69 1)" x="-0.11" y="0" font-size="113" font-weight="bold" letter-spacing="0" fill="#1b1b1b" stroke="#1b1b1b" stroke-width="1.2" stroke-linejoin="round">)</text></g>
<g>
<text transform="translate(0 292.7) scale(0.87 1)" font-size="56.6" font-weight="normal" fill="#1b1b1b" stroke="#1b1b1b" stroke-width="1.2" stroke-linejoin="round"><tspan x="1807.31" letter-spacing="10.17">DOC</tspan></text>
<text transform="translate(1736.26 287.74) scale(0.99 0.8)" font-size="56.6" font-weight="normal" fill="#1b1b1b" stroke="#1b1b1b" stroke-width="2">=</text>
</g>
<g>
<text transform="translate(0 367.5)" x="1530.01" font-size="56.6" letter-spacing="0" fill="#1b1b1b" stroke="#1b1b1b" stroke-width="1.2" stroke-linejoin="round">1</text>
<path transform="translate(0 367.5)" d="M1531.72 -6.03H1543.64V3.1H1531.72ZM1549.85 -6.03H1561.32V3.1H1549.85Z" fill="#fff"/>
<text transform="translate(0 367.5) scale(0.87 1)" font-size="56.6" fill="#1b1b1b" stroke="#1b1b1b" stroke-width="1.2" stroke-linejoin="round"><tspan x="1829.8" letter-spacing="9.01">mg</tspan><tspan x="1921.67" y="12.3" font-size="54" font-weight="bold" stroke-width="0.3">c</tspan> <tspan x="1999.26" y="0">L</tspan><tspan x="2038.13" y="-25" font-size="42" font-weight="bold">−</tspan><tspan x="2066.53" y="-25" font-size="42" font-weight="bold">1</tspan></text>
<path transform="translate(0 342.5) scale(0.87 1)" d="M2066.57 -6.09H2075.73V3.1H2066.57ZM2082.69 -6.09H2091.32V3.1H2082.69Z" fill="#fff"/>
</g>
<g>
<text transform="translate(0 459.5) scale(0.87 1)" font-size="56.6" font-weight="normal" fill="#1b1b1b" stroke="#1b1b1b" stroke-width="1.2" stroke-linejoin="round"><tspan x="1799.21">d</tspan></text>
<text transform="translate(1629.4 454.54) scale(1.01 0.8)" font-size="56.6" font-weight="normal" fill="#1b1b1b" stroke="#1b1b1b" stroke-width="2">=</text>
<text transform="translate(0 459.5)" font-size="56.6" font-weight="normal" fill="#1b1b1b" stroke="#1b1b1b" stroke-width="1.2" stroke-linejoin="round"><tspan x="1698.13">3</tspan></text>
<text transform="translate(0 459.5) scale(0.87 1)" font-size="56.6" font-weight="normal" fill="#1b1b1b" stroke="#1b1b1b" stroke-width="1.2" stroke-linejoin="round"><tspan x="2028.19">m</tspan></text>
</g>
<g>
<text transform="translate(0 1959.6) scale(0.87 1)" font-size="56.6" font-weight="normal" fill="#1b1b1b" stroke="#1b1b1b" stroke-width="1.2" stroke-linejoin="round"><tspan x="1770.76" letter-spacing="9.53">DOC</tspan></text>
<text transform="translate(1703.3 1954.64) scale(1.05 0.8)" font-size="56.6" font-weight="normal" fill="#1b1b1b" stroke="#1b1b1b" stroke-width="2">=</text>
</g>
<g>
<text transform="translate(0 2035.1)" x="1506.72" font-size="56.6" letter-spacing="0" fill="#1b1b1b" stroke="#1b1b1b" stroke-width="1.2" stroke-linejoin="round">5</text>
<text transform="translate(0 2035.1) scale(0.87 1)" font-size="56.6" fill="#1b1b1b" stroke="#1b1b1b" stroke-width="1.2" stroke-linejoin="round"><tspan x="1806.47" letter-spacing="10.04">mg</tspan><tspan x="1896.96" y="12.3" font-size="54" font-weight="bold" stroke-width="0.3">c</tspan> <tspan x="1975.98" y="0">L</tspan><tspan x="2014.62" y="-25" font-size="42" font-weight="bold">−</tspan><tspan x="2045.09" y="-25" font-size="42" font-weight="bold">1</tspan></text>
<path transform="translate(0 2010.1) scale(0.87 1)" d="M2045.14 -6.09H2054.29V3.1H2045.14ZM2061.26 -6.09H2069.88V3.1H2061.26Z" fill="#fff"/>
</g>
<g>
<text transform="translate(0 2127.1) scale(0.87 1)" font-size="56.6" font-weight="normal" fill="#1b1b1b" stroke="#1b1b1b" stroke-width="1.2" stroke-linejoin="round"><tspan x="1734.15">d</tspan></text>
<text transform="translate(1571.1 2122.14) scale(1.05 0.8)" font-size="56.6" font-weight="normal" fill="#1b1b1b" stroke="#1b1b1b" stroke-width="2">=</text>
<text transform="translate(0 2127.1)" font-size="56.6" font-weight="normal" fill="#1b1b1b" stroke="#1b1b1b" stroke-width="1.2" stroke-linejoin="round"><tspan x="1641.23">3</tspan></text>
<text transform="translate(0 2127.1) scale(0.87 1)" font-size="56.6" font-weight="normal" fill="#1b1b1b" stroke="#1b1b1b" stroke-width="1.2" stroke-linejoin="round"><tspan x="1963.31">m</tspan></text>
</g>
<g>
<text transform="translate(0 3660.1) scale(0.87 1)" font-size="56.6" font-weight="normal" fill="#1b1b1b" stroke="#1b1b1b" stroke-width="1.2" stroke-linejoin="round"><tspan x="1774.21" letter-spacing="9.36">DOC</tspan></text>
<text transform="translate(1707.11 3655.14) scale(1.01 0.8)" font-size="56.6" font-weight="normal" fill="#1b1b1b" stroke="#1b1b1b" stroke-width="2">=</text>
</g>
<g>
<text transform="translate(0 3739)" x="1484.36" font-size="56.6" letter-spacing="1.4" fill="#1b1b1b" stroke="#1b1b1b" stroke-width="1.2" stroke-linejoin="round">10</text>
<path transform="translate(0 3739)" d="M1486.07 -6.03H1497.99V3.1H1486.07ZM1504.19 -6.03H1515.67V3.1H1504.19Z" fill="#fff"/>
<text transform="translate(0 3739) scale(0.87 1)" font-size="56.6" fill="#1b1b1b" stroke="#1b1b1b" stroke-width="1.2" stroke-linejoin="round"><tspan x="1819.34" letter-spacing="7.86">mg</tspan><tspan x="1910.87" y="12.3" font-size="54" font-weight="bold" stroke-width="0.3">c</tspan> <tspan x="1989.49" y="0">L</tspan><tspan x="2028.99" y="-25" font-size="42" font-weight="bold">−</tspan><tspan x="2058.77" y="-25" font-size="42" font-weight="bold">1</tspan></text>
<path transform="translate(0 3714) scale(0.87 1)" d="M2058.82 -6.09H2067.97V3.1H2058.82ZM2074.94 -6.09H2083.56V3.1H2074.94Z" fill="#fff"/>
</g>
<g>
<text transform="translate(0 3830.5) scale(0.87 1)" font-size="56.6" font-weight="normal" fill="#1b1b1b" stroke="#1b1b1b" stroke-width="1.2" stroke-linejoin="round"><tspan x="1738.06">d</tspan></text>
<text transform="translate(1575.6 3825.54) scale(1.05 0.8)" font-size="56.6" font-weight="normal" fill="#1b1b1b" stroke="#1b1b1b" stroke-width="2">=</text>
<text transform="translate(0 3830.5)" font-size="56.6" font-weight="normal" fill="#1b1b1b" stroke="#1b1b1b" stroke-width="1.2" stroke-linejoin="round"><tspan x="1650.06" letter-spacing="1.2">10</tspan></text>
<path transform="translate(0 3830.5)" d="M1651.77 -6.03H1663.69V3.1H1651.77ZM1669.89 -6.03H1681.37V3.1H1669.89Z" fill="#fff"/>
<text transform="translate(0 3830.5) scale(0.87 1)" font-size="56.6" font-weight="normal" fill="#1b1b1b" stroke="#1b1b1b" stroke-width="1.2" stroke-linejoin="round"><tspan x="2011.7">m</tspan></text>
</g>
</svg>
</body>
</html>
